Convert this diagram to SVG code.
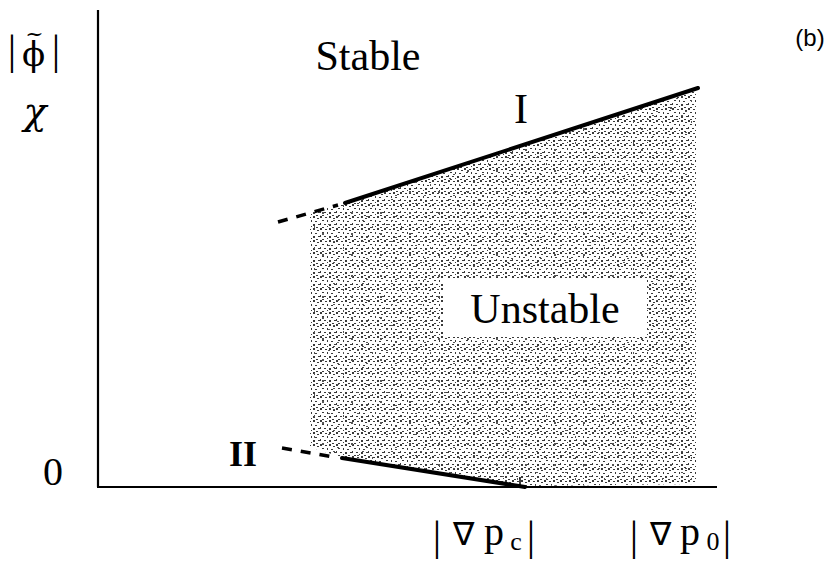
<svg xmlns="http://www.w3.org/2000/svg" width="833" height="567" viewBox="0 0 833 567">
<style>
.t{font-family:"Liberation Serif","Times New Roman",serif;fill:#000}
.ax{stroke:#000;stroke-width:2.2;fill:none}
.solid{stroke:#000;stroke-width:4;fill:none;stroke-linecap:round}
.dash{stroke:#000;stroke-width:3.5;fill:none;stroke-dasharray:10 9}
</style>
<defs>
<pattern id="stip" width="16" height="12" patternUnits="userSpaceOnUse">
<rect width="16" height="12" fill="#fff"/>
<g fill="#3a3a3a">
<rect x="0" y="0" width="2" height="2"/><rect x="5" y="1" width="2" height="1"/><rect x="9" y="0" width="2" height="2"/><rect x="13" y="2" width="2" height="1"/>
<rect x="2" y="4" width="2" height="1"/><rect x="7" y="4" width="1" height="2"/><rect x="11" y="5" width="2" height="1"/>
<rect x="0" y="7" width="1" height="2"/><rect x="4" y="8" width="2" height="1"/><rect x="9" y="8" width="2" height="2"/><rect x="14" y="8" width="2" height="1"/>
<rect x="2" y="11" width="2" height="1"/><rect x="7" y="10" width="1" height="1"/><rect x="12" y="11" width="2" height="1"/>
</g>
</pattern>
<pattern id="stip2" width="29" height="21" patternUnits="userSpaceOnUse">
<g fill="#555">
<rect x="3" y="2" width="2" height="2"/><rect x="18" y="6" width="2" height="1"/><rect x="9" y="14" width="2" height="1"/><rect x="24" y="16" width="1" height="2"/><rect x="14" y="10" width="2" height="1"/>
</g>
</pattern>
</defs>
<g id="region">
<polygon points="310,213 345,203 697,88 697,484 525,486 342,457 325,452 310,447" fill="url(#stip)"/>
<polygon points="310,213 345,203 697,88 697,484 525,486 342,457 325,452 310,447" fill="url(#stip2)"/>
</g>
<g id="axes">
<line class="ax" x1="98" y1="10" x2="98" y2="487"/>
<line class="ax" x1="97" y1="487" x2="717" y2="487"/>
<line x1="520" y1="477" x2="520" y2="487" stroke="#000" stroke-width="1.5"/>
</g>
<g id="connectors">
<line class="dash" x1="278" y1="222" x2="338" y2="205"/>
<line class="solid" x1="345" y1="203" x2="698" y2="88"/>
<line class="dash" x1="282" y1="448" x2="334" y2="457"/>
<line class="solid" x1="342" y1="458" x2="525" y2="487"/>
</g>
<g id="unstable">
<rect x="443" y="278" width="204" height="59" fill="#fff"/>
<text class="t" x="545" y="323" font-size="42" text-anchor="middle">Unstable</text>
</g>
<g id="labels">
<text class="t" x="368" y="70" font-size="42" text-anchor="middle">Stable</text>
<text class="t" x="521" y="123" font-size="42" text-anchor="middle">I</text>
<text class="t" x="243" y="466" font-size="36" font-weight="bold" text-anchor="middle">II</text>
<text class="t" x="53" y="485" font-size="40" text-anchor="middle">0</text>
<text x="35" y="124" font-size="38" font-style="italic" text-anchor="middle" font-family="DejaVu Serif, serif">χ</text>
<text class="t" x="12" y="64" font-size="42" text-anchor="middle">|</text>
<text x="22" y="66" font-size="34" font-family="DejaVu Serif, serif">ϕ<tspan dx="-20" dy="-25" font-size="22">~</tspan></text>
<text class="t" x="56" y="64" font-size="42" text-anchor="middle">|</text>
<text class="t" x="437" y="550" font-size="42" text-anchor="middle">|</text>
<text class="t" x="463" y="545" font-size="32" text-anchor="middle">∇</text>
<text class="t" x="494" y="545" font-size="40" text-anchor="middle">p</text>
<text class="t" x="516" y="550" font-size="26" text-anchor="middle">c</text>
<text class="t" x="531" y="550" font-size="42" text-anchor="middle">|</text>
<text class="t" x="634" y="550" font-size="42" text-anchor="middle">|</text>
<text class="t" x="660" y="545" font-size="32" text-anchor="middle">∇</text>
<text class="t" x="690" y="545" font-size="40" text-anchor="middle">p</text>
<text class="t" x="713" y="550" font-size="26" text-anchor="middle">0</text>
<text class="t" x="727" y="550" font-size="42" text-anchor="middle">|</text>
<text x="810" y="46" font-size="24" text-anchor="middle" font-family="Liberation Sans, Arial, sans-serif">(b)</text>
</g>
</svg>
